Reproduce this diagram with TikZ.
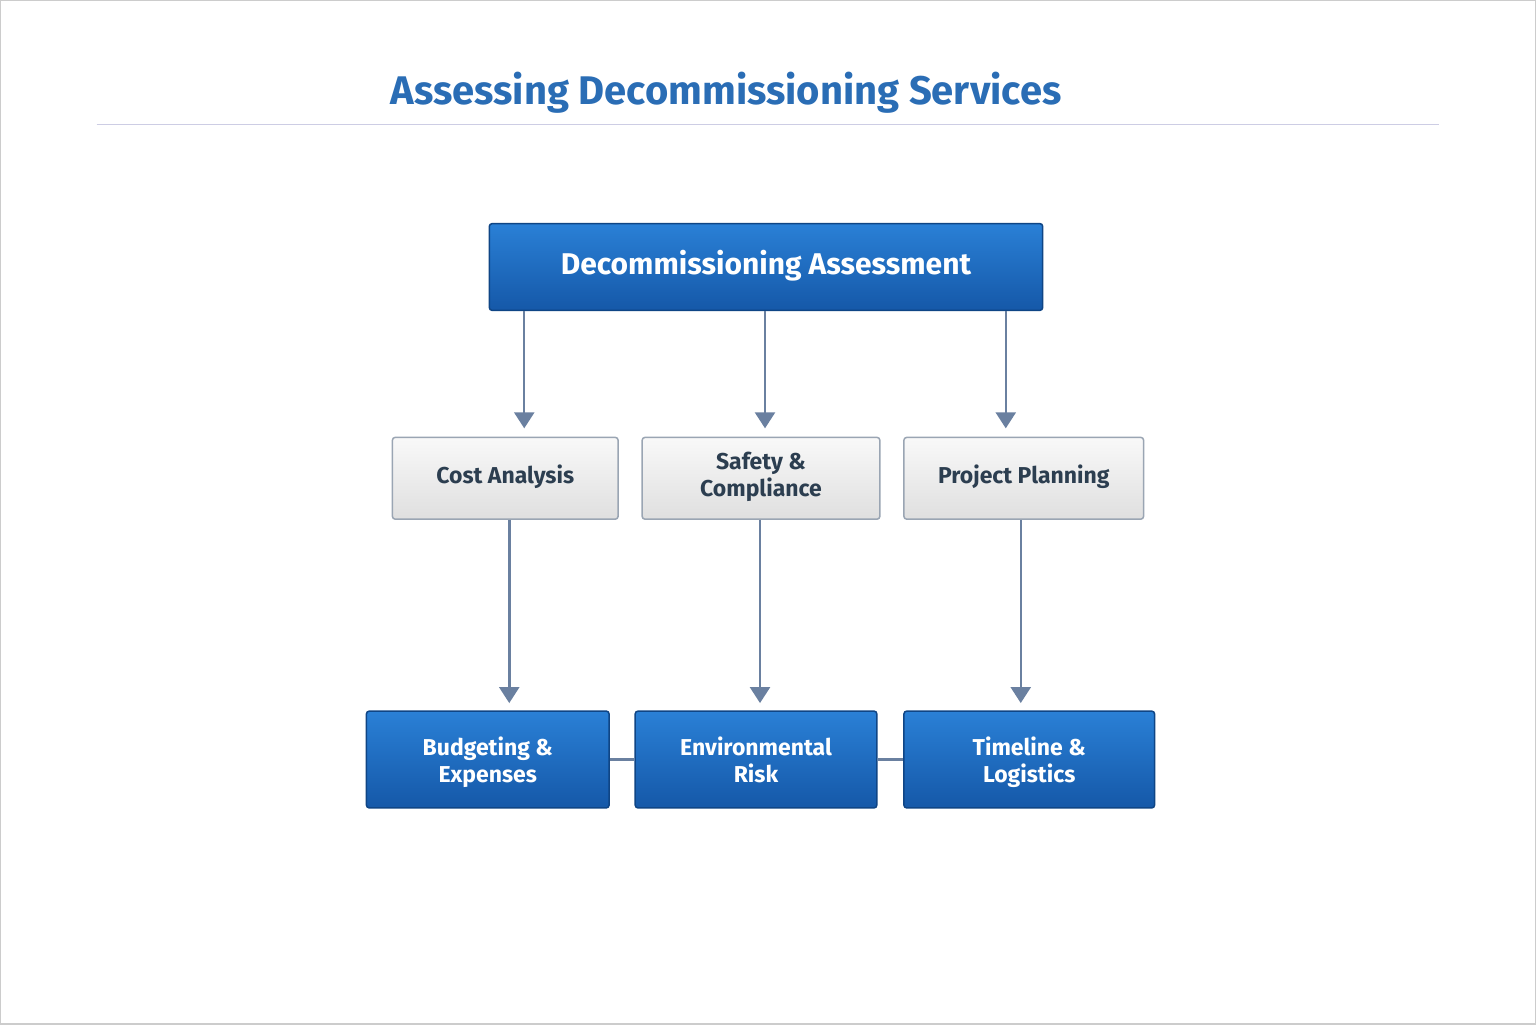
\documentclass[tikz,border=0pt]{standalone}
\usepackage{fontspec}
\setmainfont{Fira Sans}
\usetikzlibrary{arrows.meta,calc}
\definecolor{ttl}{HTML}{2A6DB5}
\definecolor{conn}{HTML}{6A80A0}
\definecolor{txt}{HTML}{2C3E50}
\definecolor{btop}{HTML}{2A80D6}
\definecolor{bbot}{HTML}{1558A8}
\definecolor{bedge}{HTML}{0F4585}
\definecolor{gedge}{HTML}{9AA5B3}
\begin{document}
\begin{tikzpicture}[x=1pt,y=-1pt,
  bluebox/.style={draw=bedge,line width=1.5pt,rounded corners=3pt,top color=btop,bottom color=bbot,text=white,font=\fontsize{23}{27}\selectfont\bfseries,align=center,inner sep=0pt,text depth=0pt},
  greybox/.style={draw=gedge,line width=1.5pt,rounded corners=3pt,top color=gray!5,bottom color=gray!25,text=txt,font=\fontsize{23}{27}\selectfont\bfseries,align=center,inner sep=0pt},
  arr/.style={draw=conn,line width=2.5pt,-{Triangle[length=16pt,width=20pt]}},
  ln/.style={draw=conn,line width=2.5pt}]
\path[use as bounding box,draw=gray!40,line width=1.5pt,fill=white] (0,0) rectangle (1536,1024);
\node[text=ttl,font=\fontsize{40}{44}\selectfont\bfseries] (title) at (726,92) {Assessing Decommissioning Services};
\draw[blue!30!gray!30,line width=1pt] (96,124) coordinate (l1) -- (1440,124) coordinate (l2);
\node[bluebox,minimum width=554pt,minimum height=87pt,font=\fontsize{30}{32}\selectfont\bfseries] (top) at (766,266.5) {};
\node[text=white,font=\fontsize{30}{32}\selectfont\bfseries] at (top) {\strut Decommissioning Assessment};
\node[greybox,minimum width=226pt,minimum height=82pt] (cost) at (505,478) {\strut Cost Analysis};
\node[greybox,minimum width=238pt,minimum height=82pt] (safe) at (761,478) {Safety \&\\Compliance\strut};
\node[greybox,minimum width=240pt,minimum height=82pt] (proj) at (1024,478) {\strut Project Planning};
\node[bluebox,minimum width=243pt,minimum height=97pt] (bud) at (487.5,759.5) {Budgeting \&\\Expenses\strut};
\node[bluebox,minimum width=242pt,minimum height=97pt] (env) at (756,759.5) {Environmental\\Risk\strut};
\node[bluebox,minimum width=251pt,minimum height=97pt] (time) at (1029.5,759.5) {Timeline \&\\Logistics\strut};
\coordinate (a1) at (524,428); \coordinate (a2) at (765,428); \coordinate (a3) at (1006,428);
\coordinate (b1) at (509,703); \coordinate (b2) at (760,703); \coordinate (b3) at (1021,703);
\draw[arr] (top.south -| a1) -- (a1);
\draw[arr] (top.south -| a2) -- (a2);
\draw[arr] (top.south -| a3) -- (a3);
\draw[arr] (cost.south -| b1) -- (b1);
\draw[arr] (safe.south -| b2) -- (b2);
\draw[arr] (proj.south -| b3) -- (b3);
\draw[ln] (bud.east) -- (env.west);
\draw[ln] (env.east) -- (time.west);
\end{tikzpicture}
\end{document}
